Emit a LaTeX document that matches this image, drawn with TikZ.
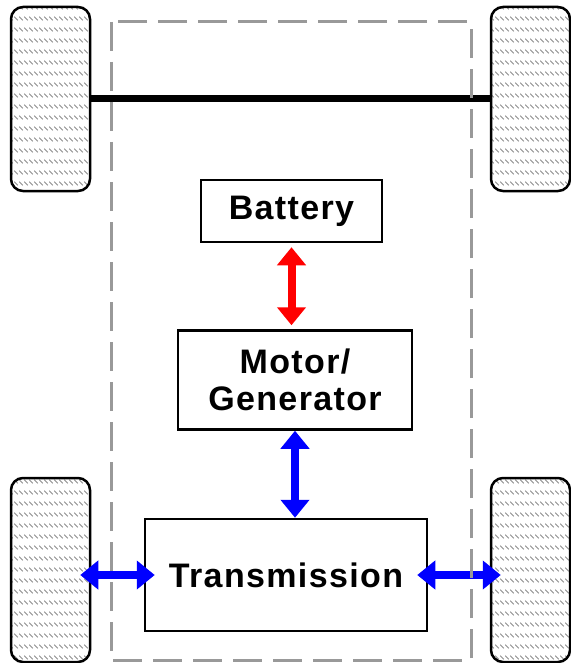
\documentclass[tikz,border=0pt]{standalone}
\usepackage{fontspec}
\setmainfont{Liberation Sans}
\usetikzlibrary{arrows.meta,positioning,patterns}
\definecolor{ink}{HTML}{000000}
\definecolor{blue}{HTML}{0000FF}
\definecolor{red}{HTML}{FF0000}
\definecolor{dashgray}{HTML}{999999}
\definecolor{treadgray}{HTML}{8C8C8C}
\pgfdeclarepatternformonly{tread}{\pgfqpoint{0pt}{0pt}}{\pgfqpoint{4.5pt}{11pt}}{\pgfqpoint{4.5pt}{11pt}}{%
  \pgfsetlinewidth{0.9pt}
  \pgfpathmoveto{\pgfqpoint{0.3pt}{9pt}}
  \pgfpathlineto{\pgfqpoint{4.2pt}{5pt}}
  \pgfusepath{stroke}}
\newcommand{\boxfont}{\fontsize{34}{37}\selectfont\bfseries\addfontfeature{LetterSpace=4}}
\tikzset{
  wheel/.style={draw=ink, line width=2.5pt, rounded corners=12pt, pattern=tread, pattern color=treadgray, minimum width=79pt, minimum height=184pt, inner sep=0pt},
  box/.style={draw=ink, line width=2.5pt, fill=white, align=center, inner sep=0pt, font=\boxfont},
  frame/.style={draw=dashgray, line width=3pt, dash pattern=on 29pt off 11pt},
  axle/.style={draw=ink, line width=7pt},
  redarrow/.style={{Triangle[length=18pt,width=28pt]}-{Triangle[length=18pt,width=28pt]}, line width=8pt, draw=red},
  bluearrow/.style={{Triangle[length=18pt,width=28pt]}-{Triangle[length=18pt,width=28pt]}, line width=8pt, draw=blue}
}
\begin{document}
\begin{tikzpicture}[x=1pt, y=-1pt]
\useasboundingbox (0,0) rectangle (570,663);
% wheels and front axle
\node[wheel] (wfl) at (50.5,99) {};
\node[wheel] (wfr) at (530.5,99) {};
\node[wheel] (wrl) at (50.5,570) {};
\node[wheel] (wrr) at (530.5,570) {};
\draw[axle] (wfl) -- (wfr);
% powertrain
\node[box, minimum width=181pt, minimum height=62pt] (batt) at (291.5,211) {Battery};
\node[box, minimum width=234pt, minimum height=99pt, below=86pt of batt, xshift=3.5pt] (mg) {Motor/\\Generator};
\node[box, minimum width=282pt, minimum height=112pt, below=87pt of mg, xshift=-9pt] (trans) {Transmission};
\draw[redarrow, shorten <=4pt, shorten >=4pt] (batt.south) -- (batt.south |- mg.north);
\draw[bluearrow] (mg.south) -- (mg.south |- trans.north);
\draw[bluearrow, shorten <=-11pt, shorten >=-11pt] (trans.west -| wrl.east) -- (trans.west);
\draw[bluearrow, shorten <=-11pt, shorten >=-11pt] (trans.east) -- (trans.east -| wrr.west);
% vehicle body
\draw[frame] (111,22) rectangle (471,660);
\end{tikzpicture}
\end{document}
